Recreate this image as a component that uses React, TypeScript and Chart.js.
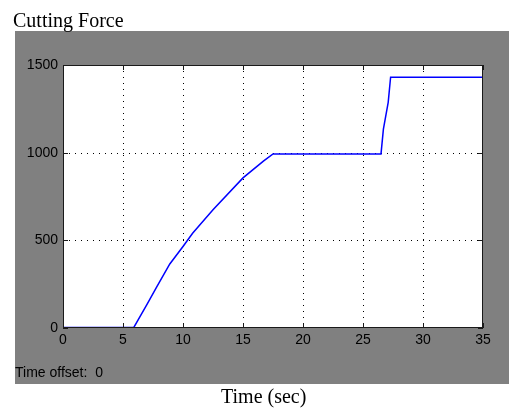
import React, { useEffect, useRef } from "react";
import { Chart, registerables } from "chart.js";

Chart.register(...registerables);

// Data
const timeSec = [0, 5.9, 7.0, 7.8, 8.9, 10.0, 10.8, 12.5, 15.0, 16.7, 17.5, 26.5, 26.7, 27.1, 27.3, 35];
const cuttingForce = [3, 3, 135, 233, 365, 465, 540, 674, 856, 952, 993, 993, 1134, 1287, 1430, 1430];
const xTicks = [0, 5, 10, 15, 20, 25, 30, 35];
const yTicks = [0, 500, 1000, 1500];

const GRAY = "#808080";

const framePlugin = {
  id: "frame",
  beforeDraw(chart: any) {
    const { ctx, chartArea: a } = chart;
    ctx.save();
    ctx.fillStyle = "#ffffff";
    ctx.fillRect(0, 0, chart.width, chart.height);
    ctx.fillStyle = GRAY;
    ctx.fillRect(15, 31, chart.width - 15, 384 - 31);
    ctx.fillStyle = "#ffffff";
    ctx.fillRect(a.left, a.top, a.right - a.left, a.bottom - a.top);
    ctx.restore();
  },
  beforeDatasetsDraw(chart: any) {
    const { ctx, chartArea: a, scales } = chart;
    const xs = scales.x;
    const ys = scales.y;
    ctx.save();
    ctx.strokeStyle = "#000000";
    ctx.lineWidth = 1;
    ctx.setLineDash([1, 5]);
    xTicks.forEach((v) => {
      const px = Math.round(xs.getPixelForValue(v)) + 0.5;
      if (px <= a.left + 1 || px >= a.right - 1) return;
      ctx.beginPath();
      ctx.moveTo(px, a.top);
      ctx.lineTo(px, a.bottom);
      ctx.stroke();
    });
    yTicks.forEach((v) => {
      const py = Math.round(ys.getPixelForValue(v)) + 0.5;
      if (py <= a.top + 1 || py >= a.bottom - 1) return;
      ctx.beginPath();
      ctx.moveTo(a.left, py);
      ctx.lineTo(a.right, py);
      ctx.stroke();
    });
    ctx.restore();
  },
  afterDatasetsDraw(chart: any) {
    const { ctx, chartArea: a, scales } = chart;
    const xs = scales.x;
    const ys = scales.y;
    const L = 5;
    ctx.save();
    ctx.strokeStyle = "#1a1a1a";
    ctx.lineWidth = 1;
    ctx.setLineDash([]);
    ctx.strokeRect(a.left + 0.5, a.top + 0.5, a.right - a.left - 1, a.bottom - a.top - 1);
    ctx.beginPath();
    xTicks.forEach((v) => {
      const px = Math.round(xs.getPixelForValue(v)) + 0.5;
      ctx.moveTo(px, a.bottom);
      ctx.lineTo(px, a.bottom - L);
      ctx.moveTo(px, a.top);
      ctx.lineTo(px, a.top + L);
    });
    yTicks.forEach((v) => {
      const py = Math.round(ys.getPixelForValue(v)) + 0.5;
      ctx.moveTo(a.left, py);
      ctx.lineTo(a.left + L, py);
      ctx.moveTo(a.right, py);
      ctx.lineTo(a.right - L, py);
    });
    ctx.stroke();
    ctx.restore();
  },
};

export default function App() {
  const canvasRef = useRef<HTMLCanvasElement | null>(null);

  useEffect(() => {
    const canvas = canvasRef.current;
    if (!canvas) return;
    const chart = new Chart(canvas, {
      type: "line",
      data: {
        datasets: [
          {
            label: "Cutting Force",
            data: timeSec.map((t, i) => ({ x: t, y: cuttingForce[i] })),
            borderColor: "#0000ff",
            borderWidth: 1.5,
            pointRadius: 0,
            tension: 0,
            fill: false,
          },
        ],
      },
      options: {
        responsive: false,
        animation: false,
        devicePixelRatio: 1,
        layout: { padding: { top: 65, right: 26, left: 0, bottom: 0 } },
        plugins: {
          legend: { display: false },
          tooltip: { enabled: false },
          title: { display: false },
        },
        scales: {
          x: {
            type: "linear",
            min: 0,
            max: 35,
            afterFit: (s: any) => {
              s.height = 81;
            },
            afterBuildTicks: (s: any) => {
              s.ticks = xTicks.map((v) => ({ value: v }));
            },
            grid: { display: false, drawTicks: false },
            border: { display: false },
            ticks: {
              color: "#000000",
              padding: 4,
              maxRotation: 0,
              autoSkip: false,
              callback: (v: any) => String(v),
              font: { family: "'Liberation Sans', Arial, sans-serif", size: 14 },
            },
          },
          y: {
            type: "linear",
            min: 0,
            max: 1500,
            afterFit: (s: any) => {
              s.width = 63;
            },
            afterBuildTicks: (s: any) => {
              s.ticks = yTicks.map((v) => ({ value: v }));
            },
            grid: { display: false, drawTicks: false },
            border: { display: false },
            ticks: {
              color: "#000000",
              padding: 5,
              autoSkip: false,
              callback: (v: any) => String(v),
              font: { family: "'Liberation Sans', Arial, sans-serif", size: 14 },
            },
          },
        },
      },
      plugins: [framePlugin],
    });
    return () => chart.destroy();
  }, []);

  return (
    <div style={{ position: "absolute", left: 0, top: 0, width: 509, height: 409, background: "#fff" }}>
      <canvas ref={canvasRef} width={509} height={409} style={{ position: "absolute", left: 0, top: 0, width: 509, height: 409 }} />
      <div
        style={{
          position: "absolute",
          left: 13,
          top: 10,
          fontFamily: "'Liberation Serif', 'Times New Roman', serif",
          fontSize: 20,
          lineHeight: "20px",
          color: "#000",
          whiteSpace: "nowrap",
        }}
      >
        Cutting Force
      </div>
      <div
        style={{
          position: "absolute",
          left: 15,
          top: 365,
          fontFamily: "'Liberation Sans', Arial, sans-serif",
          fontSize: 14,
          lineHeight: "14px",
          color: "#000",
          whiteSpace: "pre",
        }}
      >
        {"Time offset:  0"}
      </div>
      <div
        style={{
          position: "absolute",
          left: 221,
          top: 386,
          fontFamily: "'Liberation Serif', 'Times New Roman', serif",
          fontSize: 20,
          lineHeight: "20px",
          color: "#000",
          whiteSpace: "nowrap",
        }}
      >
        Time (sec)
      </div>
    </div>
  );
}
